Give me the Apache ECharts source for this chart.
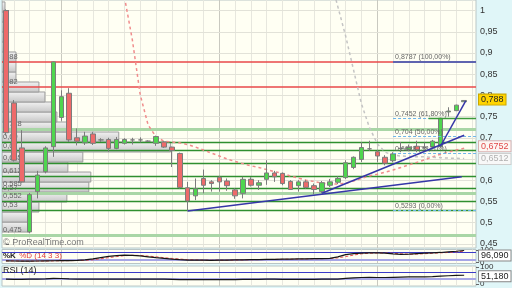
<!DOCTYPE html>
<html><head><meta charset="utf-8">
<script src="https://cdn.jsdelivr.net/npm/echarts@6/dist/echarts.min.js"></script>
<style>html,body{margin:0;padding:0;background:#e0f6f8}#c{width:512px;height:288px}</style>
</head><body><div id="c"></div>
<script>
const categories = ['1','2','3','4','5','6','7','8','9','10','11','12','13','14','15','16','17','18','19','20',
'21','22','23','24','25','26','27','28','29','30','31','32','33','34','35','36','37','38','39','40',
'41','42','43','44','45','46','47','48','49','50','51','52','53','54','55','56','57','58','59','60'];
const opens  = [1.000,0.782,0.676,0.478,0.573,0.620,0.679,0.748,0.805,0.700,0.688,0.709,0.695,0.696,0.675,0.687,0.695,0.695,0.692,0.687,
0.690,0.678,0.663,0.582,0.563,0.604,0.596,0.607,0.598,0.577,0.569,0.602,0.588,0.602,0.617,0.616,0.597,0.587,0.596,0.587,
0.573,0.588,0.595,0.606,0.630,0.649,0.674,0.667,0.654,0.646,0.675,0.672,0.680,0.677,0.678,0.679,0.761,0.764,0.785];
const closes = [0.712,0.647,0.596,0.566,0.612,0.676,0.879,0.797,0.695,0.692,0.704,0.687,0.695,0.675,0.696,0.696,0.695,0.695,0.692,0.703,
0.678,0.670,0.583,0.551,0.580,0.588,0.592,0.596,0.587,0.563,0.602,0.588,0.594,0.617,0.608,0.592,0.578,0.596,0.583,0.578,
0.594,0.596,0.604,0.641,0.654,0.677,0.674,0.657,0.640,0.662,0.675,0.677,0.672,0.677,0.692,0.746,0.763,0.777,0.788];
const lows   = [0.705,0.644,0.594,0.475,0.557,0.616,0.655,0.740,0.690,0.682,0.683,0.683,0.690,0.667,0.673,0.684,0.684,0.689,0.690,0.681,
0.676,0.631,0.580,0.527,0.553,0.569,0.573,0.573,0.575,0.556,0.557,0.585,0.577,0.589,0.596,0.588,0.577,0.573,0.580,0.567,
0.569,0.584,0.591,0.603,0.626,0.643,0.669,0.643,0.635,0.642,0.666,0.668,0.666,0.673,0.676,0.677,0.750,0.763,0.785];
const highs  = [1.003,0.789,0.718,0.570,0.622,0.680,0.880,0.812,0.817,0.722,0.714,0.714,0.699,0.700,0.702,0.699,0.700,0.701,0.694,0.705,
0.692,0.679,0.665,0.596,0.604,0.625,0.600,0.610,0.604,0.581,0.608,0.607,0.600,0.647,0.622,0.618,0.600,0.600,0.600,0.592,
0.598,0.603,0.609,0.647,0.656,0.690,0.693,0.671,0.659,0.666,0.690,0.684,0.693,0.689,0.695,0.747,0.772,0.778,0.789];
const maFast = [null,null,null,null,null,null,null,null,null,null,null,null,null,null,null,1.032,0.931,0.801,0.730,0.702,
0.692,0.690,0.688,0.684,0.678,0.671,0.664,0.657,0.650,0.644,0.639,0.634,0.630,0.625,0.620,0.616,0.610,0.605,0.600,0.597,
0.593,0.591,0.591,0.593,0.598,0.604,0.610,0.614,0.619,0.624,0.630,0.636,0.642,0.648,0.655,0.661,0.666,0.671,0.6752];
const maSlow = [null,null,null,null,null,null,null,null,null,null,null,null,null,null,null,null,null,null,null,null,
null,null,null,null,null,null,null,null,null,null,null,null,null,null,null,null,null,null,null,null,
null,1.08,1.01,0.94,0.86,0.78,0.725,0.686,0.666,0.659,0.657,0.656,0.655,0.655,0.654,0.653,0.652,0.6515,0.6512];
const stochK = [12,11,10,10,11,12,13,14,15,16,20,28,38,48,55,58,57,52,45,38,32,26,22,19,18,18,
17,18,19,20,21,22,23,24,25,26,27,28,29,30,31,33,45,62,71,75,77,76,74,68,65,66,70,74,77,80,85,90,96.09];
const stochD = [12,12,11,10,11,11,12,13,14,15,17,21,29,38,47,54,57,56,51,45,38,32,27,22,20,18,
18,18,18,19,20,21,22,23,24,25,26,27,28,29,30,31,36,47,59,69,74,76,76,73,69,66,67,70,74,77,80,85,90];
const rsi = [28,27,27,29,29,30,33,32,30,29,29,29,28,28,28,29,29,28,28,28,
28,27,26,25,26,26,26,26,26,26,27,27,27,28,28,27,27,27,27,27,28,28,29,
33,36,38,39,38,38,39,40,41,41,42,43,46,48,50,51.18];
const priceTicks = [0.45,0.5,0.55,0.6,0.65,0.7,0.75,0.8,0.85,0.9,0.95,1];
const resistanceLevels = [0.88,0.82];
const supportLevels = [0.69,0.67,0.635,0.612,0.585,0.552,0.53];
const zoneLevels = [0.718,0.57,0.475];
const fibLevels = [0.8787,0.7452,0.704,0.6628,0.5293];
const fibRatios = ['100,00%','61,80%','50,00%','38,20%','0,00%'];
const fibStart = 49;
const shortLevel = {value:0.7452, start:53.5};
const profileLow = [0.4776,0.5012,0.5248,0.5484,0.572,0.5956,0.6192,0.6428,0.6664,0.69,0.7136,0.7372,0.7608,0.7844,0.808,0.8316,0.8552,0.8788,0.9024,0.926,0.9496,0.9732,0.9968];
const profileVolume = [27,27,37,65,87,89,66,81,169,117,65,55,50,43,37,14,14,14,4,4,4,4,3];
const profileStep = 0.0236;
const trendLines = [[[23,0.527],[57.7,0.608]],[[40,0.569],[58,0.706]],[[55,0.680],[58.2,0.787]]];
const monthStarts = [7,27,47];
const lastPrice = 0.788, maFastLast = 0.6752, maSlowLast = 0.6512;
const stochLast = 96.09, rsiLast = 51.18;
const stochBands = [80,20], rsiBands = [70,30];

const comma = v => String(v).replace('.', ',');
const FONT = 'Arial, "Liberation Sans", sans-serif';
const gridStyle = {show:true, backgroundColor:'#fffff3', borderColor:'#b9c6c6', borderWidth:1, left:2, right:36};
const vGrid = [];
for (let i = 1; i < categories.length; i += 2) {
  vGrid.push({xAxis:i, lineStyle:{color: monthStarts.includes(i) ? '#c9c9c0' : '#e7e7de', width:1, type:'solid'}});
}
const hGrid = priceTicks.map(v => ({yAxis:v, lineStyle:{color:'#e2e2d8', width:1, type:'solid'}}));
const levelLines = [];
resistanceLevels.forEach(v => levelLines.push({yAxis:v, lineStyle:{color:'#e8494a', width:1.5, type:'solid'}}));
zoneLevels.forEach(v => levelLines.push({yAxis:v, lineStyle:{color:'#a9d6a6', width:3, type:'solid'}}));
supportLevels.forEach(v => levelLines.push({yAxis:v, lineStyle:{color:'#2f8f2f', width:1.3, type:'solid'}}));
levelLines.forEach(d => d.label = {show:true, position:'insideStartTop', formatter: comma(d.yAxis), color:'#666', fontSize:7.5, fontFamily:FONT, distance:[1,1]});

const fibData = fibLevels.map((v,i) => [
  {coord:[fibStart, v], lineStyle: i===0 ? {color:'#2f5fc4', width:1.5, type:'solid'} : {color:'#6fb6ea', width:1, type:[3,2]},
   label:{show:true, position:'insideStartTop', formatter: comma(v) + ' (' + fibRatios[i] + ')', color:'#666', fontSize:7, fontFamily:FONT, distance:[2,1]}},
  {coord:[categories.length - 0.5, v]}
]);
fibData.push([{coord:[shortLevel.start, shortLevel.value], lineStyle:{color:'#3c9a3c', width:1.3, type:'solid'}, label:{show:false}}, {coord:[categories.length - 0.5, shortLevel.value]}]);

function tag(v, text, bg, fg, border, offset) {
  return {yAxis:v, lineStyle:{color:'rgba(0,0,0,0)', width:0},
    label:{show:true, position:'end', distance:3, formatter:text, backgroundColor:bg, color:fg, borderColor:border, borderWidth:1,
      padding:[1,2,0,2], fontSize:9, fontFamily:FONT, offset: offset || [0,0]}};
}

const mk = (data, z) => ({symbol:['none','none'], silent:true, animation:false, label:{show:false}, data, z});

const option = {
  animation:false,
  backgroundColor:'#e0f6f8',
  grid:[
    Object.assign({top:0, height:248}, gridStyle),
    Object.assign({top:249.5, height:14}, gridStyle),
    Object.assign({top:266, height:21}, gridStyle)
  ],
  xAxis:[
    {type:'category', gridIndex:0, data:categories, show:false, boundaryGap:true},
    {type:'value', gridIndex:0, min:-0.5, max:categories.length - 0.5, show:false},
    {type:'value', gridIndex:0, min:0, max:475, show:false},
    {type:'category', gridIndex:1, data:categories, show:false, boundaryGap:true},
    {type:'category', gridIndex:2, data:categories, show:false, boundaryGap:true}
  ],
  yAxis:[
    {type:'value', gridIndex:0, position:'right', min:0.44, max:1.025, scale:true,
     splitLine:{show:false}, axisLine:{show:false},
     axisTick:{show:true, length:3, customValues:priceTicks, lineStyle:{color:'#666'}},
     axisLabel:{customValues:priceTicks, formatter:comma, color:'#333', fontSize:9, fontFamily:FONT, margin:4}},
    {type:'value', gridIndex:1, position:'right', min:-9, max:104, splitLine:{show:false}, axisLine:{show:false},
     axisTick:{show:true, length:3, customValues:[0,100], lineStyle:{color:'#666'}},
     axisLabel:{customValues:[0,100], color:'#333', fontSize:8, fontFamily:FONT, margin:4}},
    {type:'value', gridIndex:2, position:'right', min:-12, max:105, splitLine:{show:false}, axisLine:{show:false},
     axisTick:{show:true, length:3, customValues:[0,100], lineStyle:{color:'#666'}},
     axisLabel:{customValues:[0,100], color:'#333', fontSize:8, fontFamily:FONT, margin:4}}
  ],
  series:[
    {type:'line', xAxisIndex:0, yAxisIndex:0, data:[], z:0, markLine:mk(vGrid.concat(hGrid), 0)},
    {type:'custom', xAxisIndex:2, yAxisIndex:0, z:1, silent:true, clip:true,
     data: profileLow.map((lo,i) => [profileVolume[i], lo, lo + profileStep]),
     encode:{x:0, y:1},
     renderItem(params, api) {
       const a = api.coord([0, api.value(2)]);
       const b = api.coord([api.value(0), api.value(1)]);
       return {type:'rect', shape:{x:a[0], y:a[1], width:b[0]-a[0], height:b[1]-a[1]},
         style:{fill:{type:'linear', x:0, y:0, x2:0, y2:1, colorStops:[{offset:0,color:'#f3f3f3'},{offset:1,color:'#c5c5c5'}]},
                stroke:'#9d9d9d', lineWidth:1}};
     }},
    {type:'line', xAxisIndex:0, yAxisIndex:0, data:[], z:2, markLine:mk(levelLines, 2)},
    {type:'line', xAxisIndex:0, yAxisIndex:0, data:maFast, z:3, symbol:'none', connectNulls:false,
     lineStyle:{color:'#f08c8c', width:1.5, type:[3,3]}},
    {type:'line', xAxisIndex:0, yAxisIndex:0, data:maSlow, z:3, symbol:'none',
     lineStyle:{color:'#c4c4c4', width:1.5, type:[3,3]}},
    {type:'candlestick', xAxisIndex:0, yAxisIndex:0, z:4, barWidth:5,
     data: opens.map((o,i) => [o, closes[i], lows[i], highs[i]]),
     itemStyle:{color:'#4fd64f', color0:'#ee6a6a', borderColor:'#7c7c7c', borderColor0:'#7c7c7c', borderColorDoji:'#7c7c7c', borderWidth:1}},
    {type:'line', xAxisIndex:1, yAxisIndex:0, data:[], z:5, markLine:mk(fibData, 5)},
    ...trendLines.map(seg => ({type:'line', xAxisIndex:1, yAxisIndex:0, data:seg, z:6, symbol:'none',
      lineStyle:{color:'#3636a8', width:1.5}})),
    {type:'line', xAxisIndex:0, yAxisIndex:0, data:[], z:10, markLine:mk([
      tag(maSlowLast, comma(maSlowLast), '#f8f8f8', '#b0b0b0', '#cfcfcf'),
      tag(maFastLast, comma(maFastLast), '#fdf6f3', '#e04a4a', '#d9b0b0'),
      tag(lastPrice, comma(lastPrice), '#ffd400', '#222', '#c9a600')
    ], 10)},
    {type:'line', xAxisIndex:3, yAxisIndex:1, data:[], z:0, markLine:mk(vGrid.concat(
      stochBands.map((v,i) => ({yAxis:v, lineStyle:{color: i===0 ? '#3b3bc8' : '#a6a6e6', width: i===0 ? 1 : 2, type:'solid'}}))), 0)},
    {type:'line', xAxisIndex:3, yAxisIndex:1, data:stochD, z:3, symbol:'none', lineStyle:{color:'#e85050', width:1, type:[3,2]}},
    {type:'line', xAxisIndex:3, yAxisIndex:1, data:stochK, z:4, symbol:'none', lineStyle:{color:'#151515', width:1.2},
     markLine:mk([tag(stochLast, stochLast.toFixed(3).replace('.', ','), '#ffffff', '#222', '#888', [0,5])], 10)},
    {type:'line', xAxisIndex:4, yAxisIndex:2, data:[], z:0, markLine:mk(vGrid.concat(
      rsiBands.map((v,i) => ({yAxis:v, lineStyle:{color: i===0 ? '#3b3bc8' : '#a6a6e6', width: i===0 ? 1 : 2, type:'solid'}}))), 0)},
    {type:'line', xAxisIndex:4, yAxisIndex:2, data:rsi, z:4, symbol:'none', lineStyle:{color:'#151515', width:1.2},
     markLine:mk([tag(rsiLast, rsiLast.toFixed(3).replace('.', ','), '#ffffff', '#222', '#888', [0,1])], 10)}
  ],
  graphic:[
    {type:'text', left:3, top:238, z:100, style:{text:'© ProRealTime.com', fill:'#777', fontSize:9, fontFamily:FONT}},
    {type:'text', left:3, top:250, z:100, style:{text:'{k|%K} {d|%D (14 3 3)}', rich:{k:{fill:'#222', fontSize:8, fontWeight:'bold', fontFamily:FONT}, d:{fill:'#e04040', fontSize:8, fontFamily:FONT}}}},
    {type:'text', left:3, top:266, z:100, style:{text:'RSI (14)', fill:'#222', fontSize:9, fontFamily:FONT}}
  ]
};
const chart = echarts.init(document.getElementById('c'), null, {renderer:'canvas'});
chart.setOption(option);
</script></body></html>
